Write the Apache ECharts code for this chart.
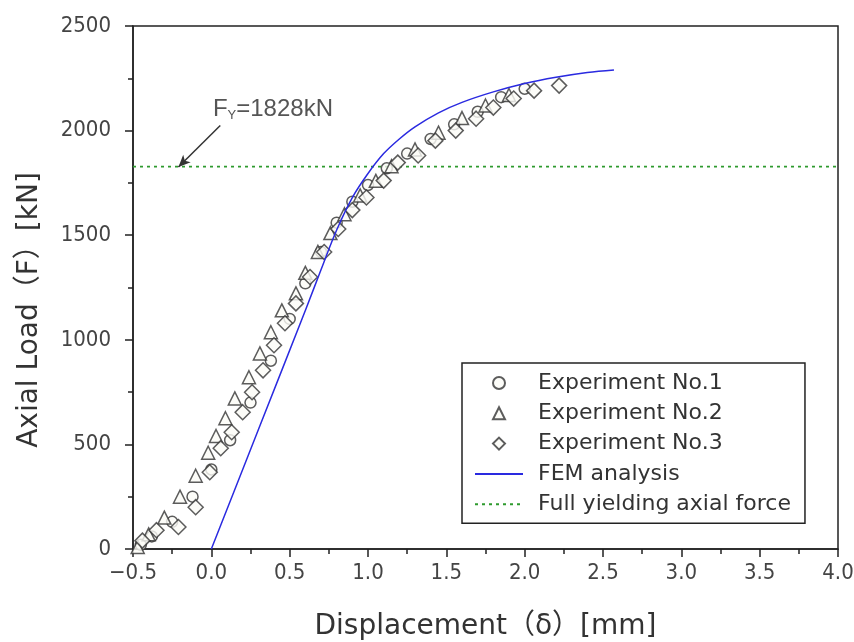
<!DOCTYPE html>
<html>
<head>
<meta charset="utf-8">
<script src="https://cdn.jsdelivr.net/npm/echarts@6/dist/echarts.min.js"></script>
<style>
  html, body { margin: 0; padding: 0; background: #fff; }
  #main { width: 854px; height: 642px; }
</style>
</head>
<body>
<div id="main"></div>
<script>
// 试验数据 (displacement mm, load kN)
var exp1 = [[-0.45,20],[-0.38,60],[-0.25,130],[-0.12,250],[0.0,380],[0.12,520],[0.25,700],[0.38,900],[0.5,1100],[0.6,1270],[0.7,1420],[0.8,1560],[0.9,1660],[1.0,1740],[1.12,1820],[1.25,1890],[1.4,1960],[1.55,2030],[1.7,2090],[1.85,2160],[2.0,2200]];
var exp2 = [[-0.47,10],[-0.4,70],[-0.3,150],[-0.2,250],[-0.1,350],[-0.02,460],[0.03,540],[0.09,625],[0.15,720],[0.24,821],[0.31,935],[0.38,1036],[0.45,1141],[0.54,1222],[0.6,1320],[0.68,1420],[0.76,1510],[0.85,1600],[0.95,1690],[1.05,1760],[1.15,1830],[1.3,1910],[1.45,1990],[1.6,2060],[1.75,2120],[1.9,2170]];
var exp3 = [[-0.44,40],[-0.35,90],[-0.21,105],[-0.1,200],[-0.01,367],[0.06,482],[0.13,558],[0.2,654],[0.26,749],[0.33,854],[0.4,974],[0.47,1079],[0.54,1174],[0.63,1300],[0.72,1420],[0.81,1530],[0.9,1620],[0.99,1680],[1.1,1761],[1.19,1847],[1.32,1881],[1.43,1952],[1.56,2000],[1.69,2057],[1.8,2110],[1.93,2153],[2.06,2191],[2.22,2215]];
var fem = [[0,0],[0.3,570],[0.6,1140],[0.7,1335],[0.8,1525],[0.9,1680],[1.0,1795],[1.1,1890],[1.2,1960],[1.3,2018],[1.45,2085],[1.6,2135],[1.8,2185],[2.0,2225],[2.2,2255],[2.4,2278],[2.57,2290]];
var yieldLoad = 1828;
var yieldLine = [[-0.5,yieldLoad],[4.0,yieldLoad]];
// 标注 F_Y 的引线 (start, end) 和文字位置
var noteArrow = [[0.057,2024],[-0.21,1826]];
var notePos = [0.01,2100];

var legendNames = ['Experiment No.1','Experiment No.2','Experiment No.3','FEM analysis','Full yielding axial force'];

var myChart = echarts.init(document.getElementById('main'));
var font = 'Liberation Sans, Arial, sans-serif';
var narrowFont = '"Liberation Sans Narrow", "DejaVu Sans Condensed", sans-serif';
var wideFont = 'DejaVu Sans, Noto Sans CJK JP, sans-serif';

var markerStyle = {color:'#fbfbf6', borderColor:'#333', borderWidth:1.5};
var triPath = 'path://M0,-1L1,1L-1,1Z';
var diaPath = 'path://M0,-1L1,0L0,1L-1,0Z';

var option = {
    animation:false,
    backgroundColor:'#fff',
    grid:{left:133, right:16, top:26, bottom:93, outerBoundsMode:'none', containLabel:false,
        show:true, borderColor:'#222', borderWidth:1.5},
    legend:{
        orient:'vertical',
        left:462, top:363,
        padding:[9,14,8,12],
        itemGap:8.3,
        itemWidth:48, itemHeight:12,
        symbolKeepAspect:true,
        borderColor:'#222', borderWidth:1.5,
        backgroundColor:'#fff',
        textStyle:{fontFamily:wideFont, fontSize:22, color:'#333', padding:[0,0,0,10]},
        data:[
            {name:legendNames[0], icon:'circle'},
            {name:legendNames[1], icon:triPath},
            {name:legendNames[2], icon:diaPath},
            {name:legendNames[3], itemStyle:{opacity:0}},
            {name:legendNames[4], itemStyle:{opacity:0}}
        ]
    },
    graphic:[{
        type:'text', x:30, y:310, rotation:Math.PI/2,
        style:{text:'Axial Load（F）[kN]', font:'28px ' + wideFont, fill:'#333', align:'center', verticalAlign:'middle'}
    }],
    xAxis:{
        type:'value', min:-0.5, max:4.0, interval:0.5,
        name:'Displacement（δ）[mm]', nameLocation:'middle', nameGap:64,
        nameTextStyle:{fontFamily:wideFont, fontSize:28, color:'#333'},
        axisLine:{onZero:false, lineStyle:{color:'#222', width:1.5}},
        axisTick:{length:8, lineStyle:{color:'#222', width:1.5}},
        minorTick:{show:true, splitNumber:2, length:5, lineStyle:{color:'#222', width:1.5}},
        splitLine:{show:false},
        axisLabel:{fontFamily:narrowFont, fontSize:22, color:'#444', margin:13,
            formatter:function(v){ return (v<0?'\u2212':'') + Math.abs(v).toFixed(1); }}
    },
    yAxis:{
        type:'value', min:0, max:2500, interval:500,
        axisLine:{onZero:false, lineStyle:{color:'#222', width:1.5}},
        axisTick:{length:8, lineStyle:{color:'#222', width:1.5}},
        minorTick:{show:true, splitNumber:2, length:5, lineStyle:{color:'#222', width:1.5}},
        splitLine:{show:false},
        axisLabel:{fontFamily:narrowFont, fontSize:22, color:'#444', margin:22,
            formatter:function(v){ return String(v); }}
    },
    series:[
        {name:legendNames[0], type:'scatter', symbol:'circle', symbolSize:11, itemStyle:markerStyle, data:exp1, z:3},
        {name:legendNames[1], type:'scatter', symbol:'triangle', symbolSize:13, itemStyle:markerStyle, data:exp2, z:4},
        {name:legendNames[2], type:'scatter', symbol:'diamond', symbolSize:15, itemStyle:markerStyle, data:exp3, z:5},
        {name:legendNames[3], type:'line', smooth:0.35, symbol:'none', data:fem, z:6,
            itemStyle:{color:'#2a2ae0'}, lineStyle:{color:'#2a2ae0', width:1.5}},
        {name:legendNames[4], type:'line', symbol:'none', data:yieldLine, z:2,
            itemStyle:{color:'#2e9a2e'}, lineStyle:{color:'#2e9a2e', width:1.8, type:[3,4]},
            markLine:{
                silent:true, symbol:['none','arrow'], symbolSize:[8,12],
                lineStyle:{color:'#333', width:1.5, type:'solid'},
                label:{show:false},
                data:[[{coord:noteArrow[0]},{coord:noteArrow[1]}]]
            },
            markPoint:{
                silent:true, symbol:'circle', symbolSize:0,
                data:[{coord:notePos}],
                label:{show:true, position:'right', distance:0,
                    formatter:'{a|F}{s|Y}{a|=1828kN}',
                    rich:{
                        a:{fontFamily:font, fontSize:24, color:'#555'},
                        s:{fontFamily:font, fontSize:13, color:'#555', verticalAlign:'bottom', padding:[12,0,0,0]}
                    }}
            }
        }
    ]
};

myChart.setOption(option);
window.addEventListener('resize', function () {myChart.resize();});
</script>
</body>
</html>
